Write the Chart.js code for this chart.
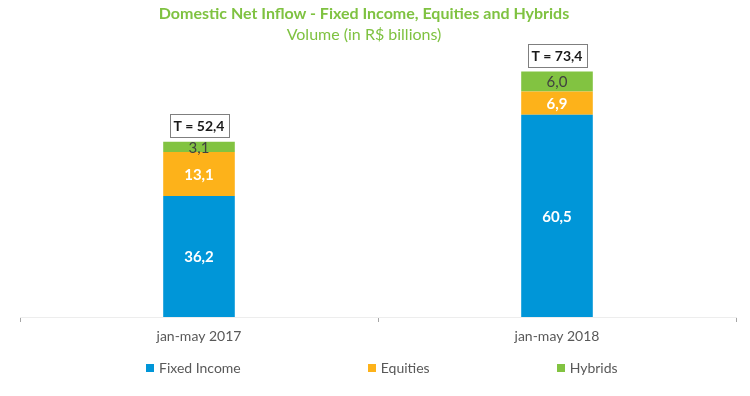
<!DOCTYPE html>
<html>
<head>
<meta charset="utf-8">
<script src="https://cdn.jsdelivr.net/npm/chart.js@4/dist/chart.umd.min.js"></script>
<style>
  html, body { margin: 0; padding: 0; background: #fff; }
  #wrap { position: relative; width: 750px; height: 396px; font-family: Lato, "Open Sans", sans-serif; }
  #chart { position: absolute; left: 0; top: 0; }
  .title { position: absolute; left: 0; width: 728px; text-align: center; color: #7fc241; line-height: 20px; }
  #t1 { top: 3px; font-size: 16px; font-weight: bold; }
  #t2 { top: 24px; font-size: 16px; }
  #legend { position: absolute; left: 146px; top: 359px; display: flex; font-size: 14px; color: #595959; }
  #legend .item { display: flex; align-items: center; margin-right: 127px; }
  #legend .item:last-child { margin-right: 0; }
  #legend .sw { width: 8px; height: 8px; margin-right: 5px; }
</style>
</head>
<body>
<div id="wrap">
  <canvas id="chart" width="750" height="396"></canvas>
  <div class="title" id="t1">Domestic Net Inflow - Fixed Income, Equities and Hybrids</div>
  <div class="title" id="t2">Volume (in R$ billions)</div>
  <div id="legend"></div>
</div>
<script>
// dados (R$ bilhões)
const periods = ["jan-may 2017", "jan-may 2018"];
const fixedIncome = [36.2, 60.5];
const equities = [13.1, 6.9];
const hybrids = [3.1, 6.0];

const seriesNames = ["Fixed Income", "Equities", "Hybrids"];
const seriesColors = ["#0096d8", "#fdb21a", "#82c341"];
const labelColors = ["#ffffff", "#ffffff", "#404040"];
const labelWeights = ["bold", "bold", "normal"];

function fmt(v) {
    return v.toFixed(1).replace(".", ",");
}

// rótulos dentro das barras + caixa com o total
const valueLabels = {
    id: "valueLabels",
    afterDatasetsDraw(chart) {
        const ctx = chart.ctx;
        ctx.save();
        ctx.textAlign = "center";
        ctx.textBaseline = "middle";
        chart.data.datasets.forEach((ds, i) => {
            const meta = chart.getDatasetMeta(i);
            meta.data.forEach((el, j) => {
                ctx.font = labelWeights[i] + " 15px Lato, 'Open Sans', sans-serif";
                ctx.fillStyle = labelColors[i];
                ctx.fillText(fmt(ds.data[j]), el.x, (el.y + el.base) / 2 + 1);
            });
        });

        const last = chart.getDatasetMeta(chart.data.datasets.length - 1);
        last.data.forEach((el, j) => {
            const total = chart.data.datasets.reduce((s, ds) => s + ds.data[j], 0);
            const txt = "T = " + fmt(total);
            ctx.font = "bold 14px Lato, 'Open Sans', sans-serif";
            const w = Math.round(ctx.measureText(txt).width) + 8, h = 23;
            const x = Math.round(el.x - w / 2);
            const y = Math.round(el.y - 5 - h);
            ctx.fillStyle = "#ffffff";
            ctx.fillRect(x, y, w, h);
            ctx.strokeStyle = "#7f7f7f";
            ctx.lineWidth = 1;
            ctx.strokeRect(x + 0.5, y + 0.5, w, h);
            ctx.fillStyle = "#1a1a1a";
            ctx.fillText(txt, el.x, y + h / 2 + 1);
        });
        ctx.restore();
    },
};

const seriesData = [fixedIncome, equities, hybrids];

new Chart(document.getElementById("chart"), {
    type: "bar",
    data: {
        labels: periods,
        datasets: seriesData.map((d, i) => ({
            label: seriesNames[i],
            data: d,
            backgroundColor: seriesColors[i],
            borderWidth: 0,
            barPercentage: 1,
            categoryPercentage: 0.2,
        })),
    },
    options: {
        responsive: false,
        animation: false,
        layout: { padding: { top: 16, left: 20, right: 14, bottom: 49 } },
        plugins: {
            legend: { display: false },
            title: { display: false },
            tooltip: { enabled: false },
        },
        scales: {
            x: {
                stacked: true,
                afterFit(scale) { scale.height = 30; },
                grid: {
                    display: true,
                    offset: true,
                    drawOnChartArea: false,
                    drawTicks: true,
                    tickLength: 5,
                    color: "#a6a6a6",
                },
                border: { display: true, color: "#ededed" },
                ticks: {
                    color: "#595959",
                    padding: 6,
                    font: { family: "Lato, 'Open Sans', sans-serif", size: 14 },
                },
            },
            y: {
                stacked: true,
                display: false,
                min: 0,
                max: 90,
            },
        },
    },
    plugins: [valueLabels],
});

// legenda em HTML (espaçamento largo como no original)
const legend = document.getElementById("legend");
seriesNames.forEach((name, i) => {
    const item = document.createElement("div");
    item.className = "item";
    const sw = document.createElement("span");
    sw.className = "sw";
    sw.style.background = seriesColors[i];
    const tx = document.createElement("span");
    tx.textContent = name;
    item.appendChild(sw);
    item.appendChild(tx);
    legend.appendChild(item);
});
</script>
</body>
</html>
